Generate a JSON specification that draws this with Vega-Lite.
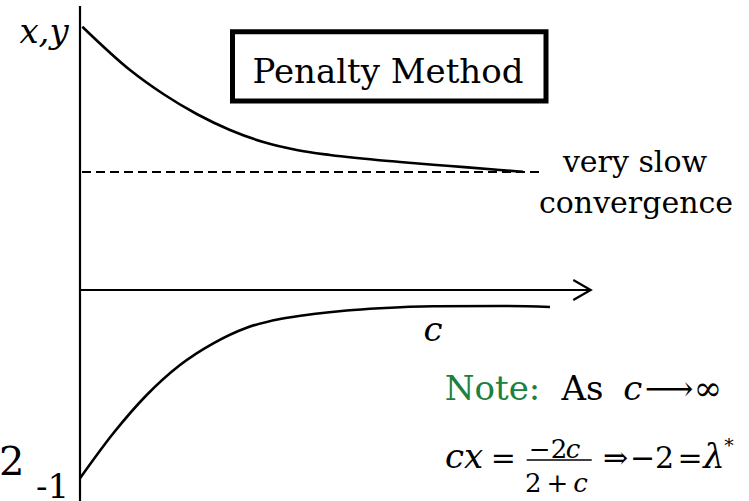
{
  "$schema": "https://vega.github.io/schema/vega-lite/v6.json",
  "width": 749,
  "height": 501,
  "autosize": {"type": "none"},
  "padding": 0,
  "background": "white",
  "config": {"view": {"stroke": null}, "font": "DejaVu Serif"},
  "datasets": {
    "axes": [
      {"part": "v", "k": 0, "c": 0, "y": 1.4947},
      {"part": "v", "k": 1, "c": 0, "y": -1.1105},
      {"part": "h", "k": 0, "c": 0, "y": 0},
      {"part": "h", "k": 1, "c": 10.214, "y": 0},
      {"part": "a", "k": 0, "c": 9.866, "y": 0.0526},
      {"part": "a", "k": 1, "c": 10.214, "y": 0},
      {"part": "a", "k": 2, "c": 9.866, "y": -0.0526}
    ],
    "upper": [
      {"c": 0.046, "y": 1.3858},
      {"c": 1.0, "y": 1.1579},
      {"c": 1.666, "y": 1.0316},
      {"c": 2.334, "y": 0.9263},
      {"c": 3.0, "y": 0.8421},
      {"c": 3.666, "y": 0.7789},
      {"c": 4.334, "y": 0.7368},
      {"c": 5.0, "y": 0.7105},
      {"c": 6.4, "y": 0.6737},
      {"c": 7.4, "y": 0.6526},
      {"c": 8.4, "y": 0.6316},
      {"c": 8.86, "y": 0.6226}
    ],
    "lower": [
      {"c": 0, "y": -0.9911},
      {"c": 0.666, "y": -0.7542},
      {"c": 1.334, "y": -0.5526},
      {"c": 2.0, "y": -0.3947},
      {"c": 2.666, "y": -0.2805},
      {"c": 3.334, "y": -0.1984},
      {"c": 4.0, "y": -0.1526},
      {"c": 4.666, "y": -0.1263},
      {"c": 5.334, "y": -0.1079},
      {"c": 6.0, "y": -0.0963},
      {"c": 7.06, "y": -0.0858},
      {"c": 8.4, "y": -0.0842},
      {"c": 9.4, "y": -0.0895}
    ],
    "dash": [
      {"c": 0.04, "y": 0.6211},
      {"c": 9.2, "y": 0.6211}
    ],
    "fracbar": [
      {"c": 8.934, "y": -0.8947},
      {"c": 10.234, "y": -0.8947}
    ],
    "box": [
      {"c": 3.05, "c2": 9.32, "y": 1.359, "y2": 0.9947}
    ],
    "title": [
      {"label": "Penalty Method", "c": 6.16, "y": 1.0879}
    ],
    "side": [
      {"label": "very slow", "c": 11.1, "y": 0.621},
      {"label": "convergence", "c": 11.12, "y": 0.405}
    ],
    "italicMain": [
      {"label": "x,y", "c": -0.72, "y": 1.3},
      {"label": "c", "c": 7.06, "y": -0.268},
      {"label": "c", "c": 11.054, "y": -0.5789},
      {"label": "cx", "c": 7.68, "y": -0.9384},
      {"label": "λ", "c": 12.68, "y": -0.9384}
    ],
    "normalMain": [
      {"label": "As", "c": 10.05, "y": -0.5789},
      {"label": "⟶", "c": 11.78, "y": -0.5789},
      {"label": "∞", "c": 12.56, "y": -0.5789}
    ],
    "formula": [
      {"label": "=", "c": 8.466, "y": -0.9384},
      {"label": "⇒", "c": 10.71, "y": -0.9384},
      {"label": "−2", "c": 11.44, "y": -0.9384},
      {"label": "=", "c": 12.2, "y": -0.9384}
    ],
    "note": [
      {"label": "Note:", "c": 8.25, "y": -0.5789}
    ],
    "frac": [
      {"label": "−2", "c": 9.36, "y": -0.8858},
      {"label": "2", "c": 9.067, "y": -1.0616},
      {"label": "+", "c": 9.547, "y": -1.0616}
    ],
    "fracItalic": [
      {"label": "c", "c": 9.86, "y": -0.8858},
      {"label": "c", "c": 10.01, "y": -1.0616}
    ],
    "star": [
      {"label": "*", "c": 12.98, "y": -0.8526}
    ],
    "two": [
      {"label": "2", "c": -1.366, "y": -0.9737}
    ],
    "minusone": [
      {"label": "-1", "c": -0.55, "y": -1.095}
    ]
  },
  "encoding": {
    "x": {"field": "c", "type": "quantitative", "scale": {"domain": [-1.6, 13.38], "nice": false, "zero": false}, "axis": null},
    "y": {"field": "y", "type": "quantitative", "scale": {"domain": [-1.1105, 1.5263], "nice": false, "zero": false}, "axis": null}
  },
  "layer": [
    {
      "data": {"name": "axes"},
      "mark": {"type": "line", "color": "black", "strokeWidth": 2.2, "strokeJoin": "miter", "clip": false},
      "encoding": {"detail": {"field": "part"}, "order": {"field": "k", "type": "quantitative"}}
    },
    {
      "data": {"name": "upper"},
      "mark": {"type": "line", "color": "black", "strokeWidth": 2.6, "interpolate": "monotone"},
      "encoding": {}
    },
    {
      "data": {"name": "lower"},
      "mark": {"type": "line", "color": "black", "strokeWidth": 2.6, "interpolate": "monotone"},
      "encoding": {}
    },
    {
      "data": {"name": "dash"},
      "mark": {"type": "line", "color": "black", "strokeWidth": 2, "strokeDash": [9, 5]},
      "encoding": {}
    },
    {
      "data": {"name": "fracbar"},
      "mark": {"type": "line", "color": "black", "strokeWidth": 1.5},
      "encoding": {}
    },
    {
      "data": {"name": "box"},
      "mark": {"type": "rect", "fill": "white", "stroke": "black", "strokeWidth": 5},
      "encoding": {"x2": {"field": "c2"}, "y2": {"field": "y2"}}
    },
    {
      "data": {"name": "title"},
      "mark": {"type": "text", "font": "DejaVu Serif", "fontSize": 34, "align": "center", "baseline": "alphabetic", "color": "black"},
      "encoding": {"text": {"field": "label"}}
    },
    {
      "data": {"name": "side"},
      "mark": {"type": "text", "font": "DejaVu Serif", "fontSize": 30, "align": "center", "baseline": "alphabetic", "color": "black"},
      "encoding": {"text": {"field": "label"}}
    },
    {
      "data": {"name": "italicMain"},
      "mark": {"type": "text", "font": "DejaVu Serif", "fontSize": 34, "fontStyle": "italic", "align": "center", "baseline": "alphabetic", "color": "black"},
      "encoding": {"text": {"field": "label"}}
    },
    {
      "data": {"name": "normalMain"},
      "mark": {"type": "text", "font": "DejaVu Serif", "fontSize": 34, "align": "center", "baseline": "alphabetic", "color": "black"},
      "encoding": {"text": {"field": "label"}}
    },
    {
      "data": {"name": "formula"},
      "mark": {"type": "text", "font": "DejaVu Serif", "fontSize": 30, "align": "center", "baseline": "alphabetic", "color": "black"},
      "encoding": {"text": {"field": "label"}}
    },
    {
      "data": {"name": "note"},
      "mark": {"type": "text", "font": "DejaVu Serif", "fontSize": 34, "align": "center", "baseline": "alphabetic", "color": "#1b8040"},
      "encoding": {"text": {"field": "label"}}
    },
    {
      "data": {"name": "frac"},
      "mark": {"type": "text", "font": "DejaVu Serif", "fontSize": 26, "align": "center", "baseline": "alphabetic", "color": "black"},
      "encoding": {"text": {"field": "label"}}
    },
    {
      "data": {"name": "fracItalic"},
      "mark": {"type": "text", "font": "DejaVu Serif", "fontSize": 26, "fontStyle": "italic", "align": "center", "baseline": "alphabetic", "color": "black"},
      "encoding": {"text": {"field": "label"}}
    },
    {
      "data": {"name": "star"},
      "mark": {"type": "text", "font": "DejaVu Serif", "fontSize": 19, "align": "center", "baseline": "alphabetic", "color": "black"},
      "encoding": {"text": {"field": "label"}}
    },
    {
      "data": {"name": "two"},
      "mark": {"type": "text", "font": "DejaVu Serif", "fontSize": 40, "align": "center", "baseline": "alphabetic", "color": "black"},
      "encoding": {"text": {"field": "label"}}
    },
    {
      "data": {"name": "minusone"},
      "mark": {"type": "text", "font": "DejaVu Serif", "fontSize": 34, "align": "center", "baseline": "alphabetic", "color": "black"},
      "encoding": {"text": {"field": "label"}}
    }
  ]
}
